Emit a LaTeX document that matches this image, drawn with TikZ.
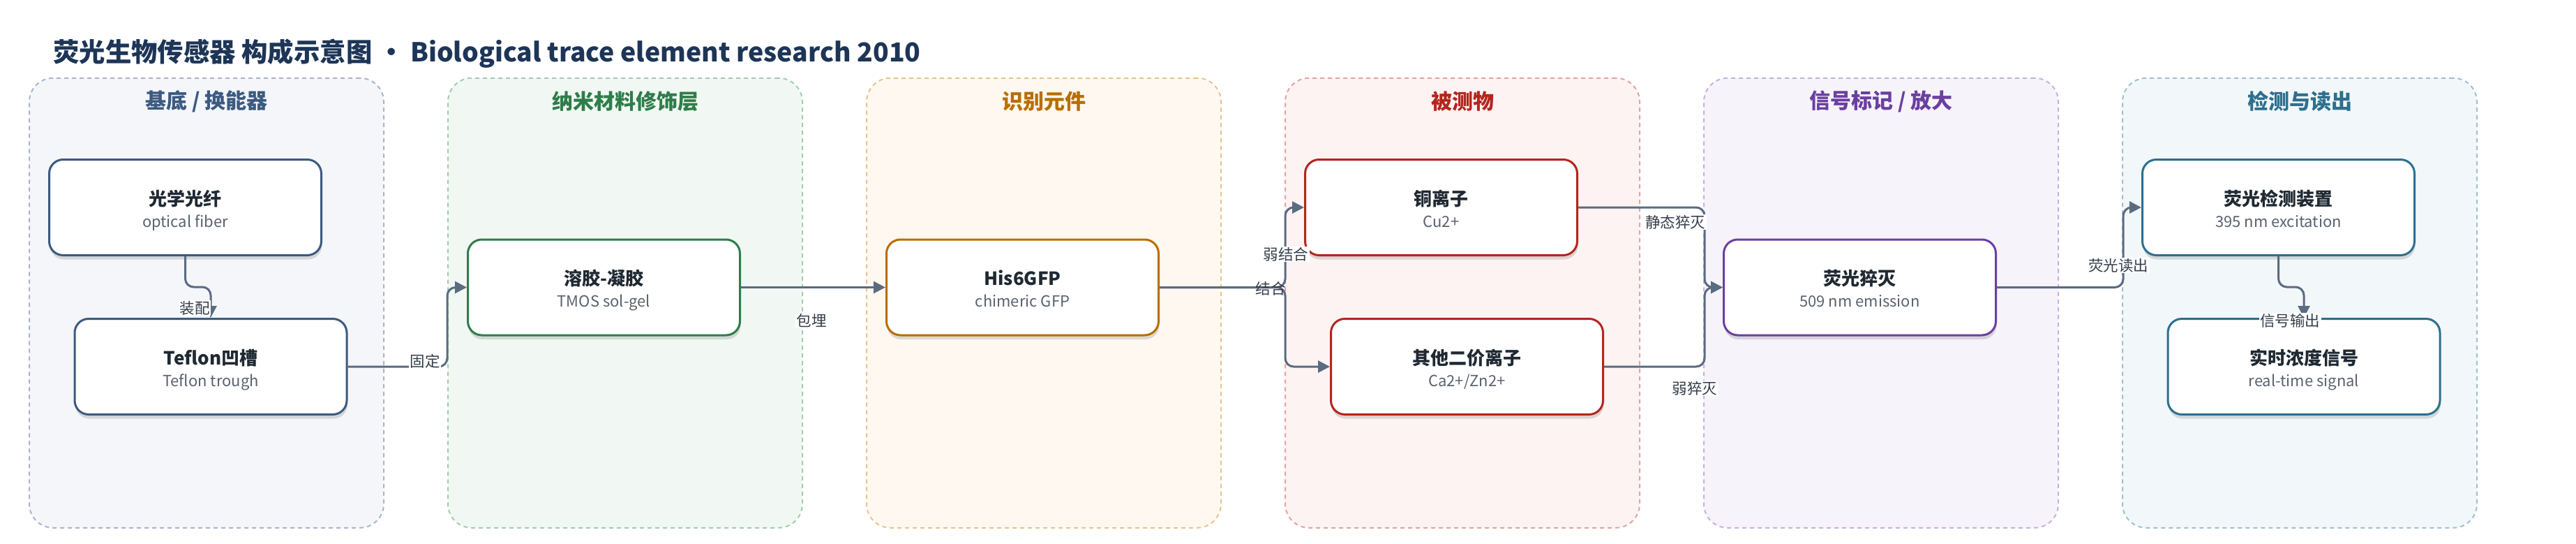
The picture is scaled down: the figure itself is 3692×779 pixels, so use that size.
\documentclass[tikz,border=0pt]{standalone}
\usepackage{fontspec}
\setmainfont{Noto Sans CJK SC}
\usetikzlibrary{arrows.meta,shadows,calc}

\definecolor{titlec}{HTML}{1D3557}
\definecolor{edgec}{HTML}{5B6B81}
\definecolor{maintc}{HTML}{1F2933}
\definecolor{subtc}{HTML}{5B6270}
\definecolor{lblc}{HTML}{343D4A}
% cluster colours
\definecolor{aF}{HTML}{F4F6FA}\definecolor{aD}{HTML}{A8B6CB}\definecolor{aT}{HTML}{3D5A80}
\definecolor{bF}{HTML}{F1F8F3}\definecolor{bD}{HTML}{A3CDB0}\definecolor{bT}{HTML}{2E7D4A}
\definecolor{cF}{HTML}{FEF8F0}\definecolor{cD}{HTML}{E8C48F}\definecolor{cT}{HTML}{B86E00}
\definecolor{dF}{HTML}{FDF3F2}\definecolor{dD}{HTML}{E6A3A3}\definecolor{dT}{HTML}{B3261E}
\definecolor{eF}{HTML}{F6F3FB}\definecolor{eD}{HTML}{C9B0E3}\definecolor{eT}{HTML}{6B3FA0}
\definecolor{fF}{HTML}{F2F7F9}\definecolor{fD}{HTML}{A0C1CF}\definecolor{fT}{HTML}{2E6F8E}

\newcommand{\boxnode}[6]{%
  \node[nodebox, draw=#4] (#1) at (#2,#3) {};
  \node[maintxt] (#1-m) at ([yshift=3pt]#1.center) {#5};
  \node[subtxt] (#1-s) at ([yshift=-28pt]#1.center) {#6};
}

\begin{document}
\begin{tikzpicture}[x=1pt,y=-1pt,
  clusterbox/.style 2 args={fill=#1, draw=#2, line width=2pt, dash pattern=on 6pt off 5pt,
    rounded corners=34pt, minimum width=508pt, minimum height=644pt, inner sep=0pt},
  gtitle/.style={font=\bfseries\fontsize{30}{36}\selectfont, inner sep=0pt},
  nodebox/.style={fill=white, line width=3pt, rounded corners=20pt,
    minimum width=390pt, minimum height=137pt, inner sep=0pt,
    drop shadow={shadow xshift=1pt, shadow yshift=-6pt, opacity=0.13, fill=black}},
  maintxt/.style={anchor=base, inner sep=0pt, text=maintc, font=\bfseries\fontsize{26}{30}\selectfont},
  subtxt/.style={anchor=base, inner sep=0pt, text=subtc, font=\fontsize{22}{26}\selectfont},
  conn/.style={draw=edgec, line width=3pt, rounded corners=12pt,
    -{Triangle[length=17pt,width=17pt]}},
  elabel/.style={fill=white, inner sep=1.5pt, text=lblc, font=\fontsize{21.5}{24}\selectfont},
  elabelclear/.style={inner sep=1.5pt, text=lblc, font=\fontsize{21.5}{24}\selectfont}
]
\useasboundingbox (0,0) rectangle (3692,779);

% title
\node[anchor=west, inner sep=0pt, text=titlec, font=\bfseries\fontsize{37.4}{44}\selectfont] (title) at (76,77)
  {荧光生物传感器 构成示意图 · Biological trace element research 2010};

% clusters
\node[clusterbox={aF}{aD}] (g1) at (296,433.75) {};
\node[clusterbox={bF}{bD}] (g2) at (896,433.75) {};
\node[clusterbox={cF}{cD}] (g3) at (1496,433.75) {};
\node[clusterbox={dF}{dD}] (g4) at (2096,433.75) {};
\node[clusterbox={eF}{eD}] (g5) at (2696,433.75) {};
\node[clusterbox={fF}{fD}] (g6) at (3296,433.75) {};

\node[gtitle, text=aT] (g1t) at (296,145) {基底 / 换能器};
\node[gtitle, text=bT] (g2t) at (896,145) {纳米材料修饰层};
\node[gtitle, text=cT] (g3t) at (1496,145) {识别元件};
\node[gtitle, text=dT] (g4t) at (2096,145) {被测物};
\node[gtitle, text=eT] (g5t) at (2696,145) {信号标记 / 放大};
\node[gtitle, text=fT] (g6t) at (3296,145) {检测与读出};

% nodes
\boxnode{fiber}{265.5}{297}{aT}{光学光纤}{optical fiber}
\boxnode{teflon}{302}{525}{aT}{Teflon凹槽}{Teflon trough}
\boxnode{solgel}{865.5}{411.5}{bT}{溶胶-凝胶}{TMOS sol-gel}
\boxnode{gfp}{1465.5}{411.5}{cT}{His6GFP}{chimeric GFP}
\boxnode{cu}{2065.5}{297}{dT}{铜离子}{Cu2+}
\boxnode{other}{2102.5}{525}{dT}{其他二价离子}{Ca2+/Zn2+}
\boxnode{quench}{2665.5}{411.5}{eT}{荧光猝灭}{509 nm emission}
\boxnode{detect}{3265.5}{297}{fT}{荧光检测装置}{395 nm excitation}
\boxnode{signal}{3302}{525}{fT}{实时浓度信号}{real-time signal}

% connectors
\draw[conn] (fiber.south) -- (fiber.south |- 0,411) -- (teflon.north |- 0,411) -- (teflon.north);
\draw[conn] (teflon.east) -- (teflon.east -| 641,0) -- (solgel.west -| 641,0) -- (solgel.west);
\draw[conn] (solgel.east) -- (gfp.west);
\draw[conn] (gfp.east) -- (gfp.east -| 1842,0) -- (cu.west -| 1842,0) -- (cu.west);
\draw[conn] (gfp.east) -- (gfp.east -| 1842,0) -- (other.west -| 1842,0) -- (other.west);
\draw[conn] (cu.east) -- (cu.east -| 2443,0) -- (quench.west -| 2443,0) -- (quench.west);
\draw[conn] (other.east) -- (other.east -| 2443,0) -- (quench.west -| 2443,0) -- (quench.west);
\draw[conn] (quench.east) -- (quench.east -| 3043,0) -- (detect.west -| 3043,0) -- (detect.west);
\draw[conn] (detect.south) -- (detect.south |- 0,411) -- (signal.north |- 0,411) -- (signal.north);

% connector labels
\node[elabel] (l1) at (279,441) {装配};
\node[elabel] (l2) at (609,517) {固定};
\node[elabel] (l3) at (1163,459) {包埋};
\node[elabel] (l4) at (1843,364) {弱结合};
\node[elabelclear] (l5) at (1821,413) {结合};
\node[elabel] (l6) at (2401,318) {静态猝灭};
\node[elabel] (l7) at (2429,556) {弱猝灭};
\node[elabel] (l8) at (3036,380) {荧光读出};
\node[elabel] (l9) at (3282,459) {信号输出};
\end{tikzpicture}
\end{document}
